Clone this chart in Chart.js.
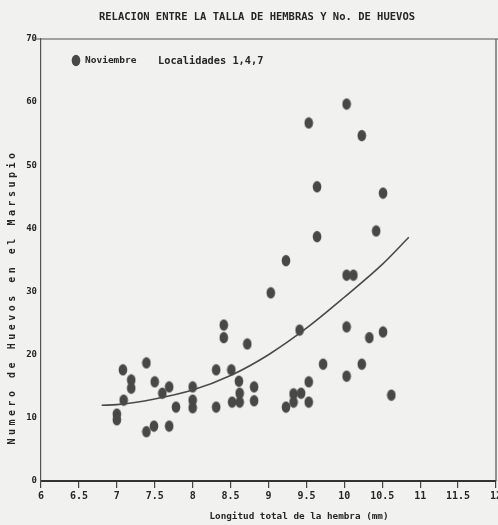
<!DOCTYPE html>
<html>
<head>
<meta charset="utf-8">
<script src="https://cdn.jsdelivr.net/npm/chart.js@4/dist/chart.umd.min.js"></script>
<style>
  html, body { margin: 0; padding: 0; background: #f1f1ef; }
  #wrap { width: 498px; height: 525px; position: relative; }
</style>
</head>
<body>
<div id="wrap"><canvas id="huevosChart" width="498" height="525"></canvas></div>
<script>
// datos (noviembre, localidades 1,4,7)
const longitud = [7.08, 7.19, 7.19, 7.39, 7.50, 7.60, 7.69, 7.09, 7.00, 7.00, 7.39, 7.49, 7.69, 7.78,
    8.00, 8.00, 8.00, 8.31, 8.31, 8.41, 8.41, 8.72, 8.51, 8.61, 8.52, 8.62, 8.62, 8.81, 8.81,
    9.03, 9.41, 10.03, 10.33, 10.51, 9.72, 10.23, 10.03, 10.62, 9.53, 9.33, 9.43, 9.33, 9.53, 9.23,
    10.03, 10.12, 10.03, 9.53, 10.23, 9.64, 10.51, 10.42, 9.64, 9.23];
const huevos = [17.6, 16.0, 14.7, 18.7, 15.7, 13.9, 14.9, 12.8, 10.6, 9.7, 7.8, 8.7, 8.7, 11.7,
    14.9, 12.8, 11.6, 17.6, 11.7, 24.7, 22.7, 21.7, 17.6, 15.8, 12.5, 13.9, 12.5, 14.9, 12.7,
    29.8, 23.9, 24.4, 22.7, 23.6, 18.5, 18.5, 16.6, 13.6, 15.7, 13.8, 13.9, 12.5, 12.5, 11.7,
    32.6, 32.6, 59.7, 56.7, 54.7, 46.6, 45.6, 39.6, 38.7, 34.9];

// curva ajustada
const curvaX = [6.80, 7.0, 7.5, 8.0, 8.5, 9.0, 9.5, 10.0, 10.5, 10.85];
const curvaY = [12.0, 12.1, 13.0, 14.4, 16.7, 20.0, 24.2, 29.1, 34.3, 38.6];

const xTicks = [6, 6.5, 7, 7.5, 8, 8.5, 9, 9.5, 10, 10.5, 11, 11.5, 12];
const yTicks = [0, 10, 20, 30, 40, 50, 60, 70];

const titulo = 'RELACION ENTRE LA TALLA DE HEMBRAS Y No. DE HUEVOS';
const serieNombre = 'Noviembre';
const localidades = 'Localidades 1,4,7';
const tituloX = 'Longitud total de la hembra (mm)';
const tituloY = 'Numero de Huevos en el Marsupio';

const FONT = '"DejaVu Sans Mono", "Liberation Mono", monospace';
const INK = '#262626';

// punto ovalado como en la impresion
function makeDot(color) {
    const c = document.createElement('canvas');
    c.width = 10; c.height = 13;
    const g = c.getContext('2d');
    g.fillStyle = color;
    g.beginPath();
    g.ellipse(5, 6.5, 4.3, 5.8, 0, 0, Math.PI * 2);
    g.fill();
    return c;
}
const dot = makeDot('#484848');

const puntos = longitud.map((x, i) => ({ x: x, y: huevos[i] }));
const curva = curvaX.map((x, i) => ({ x: x, y: curvaY[i] }));

const decor = {
    id: 'decor',
    beforeDraw(chart) {
        const ctx = chart.ctx;
        ctx.save();
        ctx.fillStyle = '#f1f1ef';
        ctx.fillRect(0, 0, chart.width, chart.height);
        ctx.restore();
    },
    afterDraw(chart) {
        const ctx = chart.ctx;
        const a = chart.chartArea;
        ctx.save();
        // marco superior y derecho
        ctx.strokeStyle = '#555';
        ctx.lineWidth = 1.2;
        ctx.beginPath();
        ctx.moveTo(34, a.top);
        ctx.lineTo(chart.width, a.top);
        ctx.moveTo(a.right, a.top);
        ctx.lineTo(a.right, a.bottom);
        ctx.stroke();

        // titulo
        ctx.fillStyle = INK;
        ctx.font = 'bold 10.5px ' + FONT;
        ctx.textAlign = 'center';
        ctx.textBaseline = 'middle';
        ctx.fillText(titulo, 257, 17);

        // leyenda dentro del grafico
        ctx.drawImage(dot, 71, 54);
        ctx.textAlign = 'left';
        ctx.font = 'bold 9.5px ' + FONT;
        ctx.fillText(serieNombre, 85, 61);
        ctx.font = 'bold 10.3px ' + FONT;
        ctx.fillText(localidades, 158, 61);

        // titulo eje x
        ctx.textAlign = 'center';
        ctx.font = 'bold 9.3px ' + FONT;
        ctx.fillText(tituloX, 299, 517);

        // titulo eje y (espaciado)
        ctx.translate(12, 297);
        ctx.rotate(-Math.PI / 2);
        ctx.font = 'bold 10px ' + FONT;
        ctx.letterSpacing = '3.5px';
        ctx.fillText(tituloY, 0, 0);
        ctx.restore();
    }
};

new Chart(document.getElementById('huevosChart'), {
    type: 'scatter',
    data: {
        datasets: [{
            label: serieNombre,
            data: puntos,
            pointStyle: dot,
            pointRadius: 5,
            backgroundColor: '#484848',
            borderColor: '#484848',
            order: 1
        }, {
            type: 'line',
            label: 'curva',
            data: curva,
            showLine: true,
            fill: false,
            borderColor: '#4a4a4a',
            borderWidth: 1.6,
            pointRadius: 0,
            tension: 0.4,
            cubicInterpolationMode: 'monotone',
            order: 0
        }]
    },
    plugins: [decor],
    options: {
        responsive: false,
        animation: false,
        events: [],
        layout: { autoPadding: false, padding: { top: 39, right: 2, left: 0, bottom: 0 } },
        plugins: {
            legend: { display: false },
            tooltip: { enabled: false },
            title: { display: false }
        },
        scales: {
            x: {
                type: 'linear',
                min: 6,
                max: 12,
                afterBuildTicks: s => { s.ticks = xTicks.map(v => ({ value: v })); },
                afterFit: s => { s.height = 44; s.paddingLeft = 0; s.paddingRight = 0; },
                ticks: {
                    color: INK,
                    font: { family: FONT, size: 10, weight: 'bold' },
                    padding: 2,
                    maxRotation: 0,
                    autoSkip: false,
                    callback: v => String(v)
                },
                grid: { drawOnChartArea: false, drawTicks: true, tickLength: 7, color: '#444', lineWidth: 1.2 },
                border: { display: true, color: '#333', width: 2 }
            },
            y: {
                type: 'linear',
                min: 0,
                max: 70,
                afterBuildTicks: s => { s.ticks = yTicks.map(v => ({ value: v })); },
                afterFit: s => { s.width = 41; s.paddingTop = 0; s.paddingBottom = 0; },
                ticks: {
                    color: INK,
                    font: { family: FONT, size: 9, weight: 'bold' },
                    padding: 4,
                    callback: v => String(v)
                },
                grid: { drawOnChartArea: false, drawTicks: false },
                border: { display: true, color: '#555', width: 1.2, dash: [5, 4] }
            }
        }
    }
});
</script>
</body>
</html>
